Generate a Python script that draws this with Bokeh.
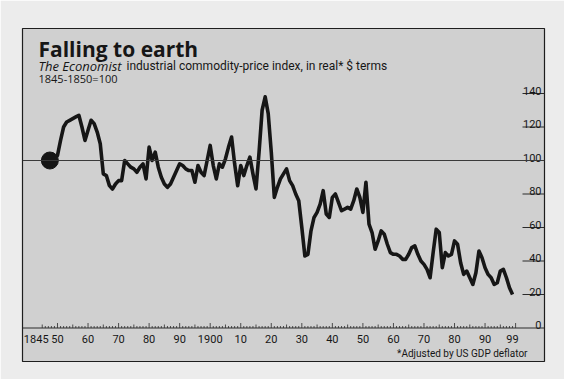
from bokeh.plotting import figure
from bokeh.models import Label, Range1d, Span, ColumnDataSource
from bokeh.embed import file_html
from bokeh.resources import INLINE
from bokeh.core.properties import value

# ---------------- data ----------------
base_year = [1847.5]          # 1845-1850 average
base_value = [100]

years = list(range(1850, 2000))
index_values = [
    103, 112, 120, 123, 124, 125, 126, 127, 120, 112,   # 1850-59
    118, 124, 122, 117, 110, 92, 91, 85, 83, 86,        # 1860-69
    88, 88, 100, 98, 96, 95, 93, 96, 98, 89,            # 1870-79
    108, 100, 105, 96, 90, 86, 84, 86, 90, 94,          # 1880-89
    98, 97, 95, 94, 94, 87, 97, 93, 91, 100,            # 1890-99
    109, 97, 89, 98, 96, 101, 108, 114, 98, 85,         # 1900-09
    97, 91, 97, 102, 92, 83, 105, 130, 138, 128,        # 1910-19
    105, 78, 84, 89, 92, 95, 88, 85, 80, 76,            # 1920-29
    60, 43, 44, 58, 66, 69, 74, 82, 68, 66,             # 1930-39
    78, 80, 75, 70, 71, 72, 71, 76, 83, 78,             # 1940-49
    69, 87, 62, 57, 47, 52, 58, 56, 50, 45,             # 1950-59
    44, 44, 43, 41, 41, 44, 48, 49, 44, 40,             # 1960-69
    38, 35, 30, 45, 59, 57, 36, 45, 43, 44,             # 1970-79
    52, 50, 39, 32, 34, 30, 26, 33, 46, 42,             # 1980-89
    36, 32, 30, 26, 27, 34, 35, 30, 24, 20,             # 1990-99
]

x_tick_years = [1845, 1850, 1860, 1870, 1880, 1890, 1900, 1910, 1920,
                1930, 1940, 1950, 1960, 1970, 1980, 1990, 1999]
x_tick_labels = ["1845", "50", "60", "70", "80", "90", "1900", "10", "20",
                 "30", "40", "50", "60", "70", "80", "90", "99"]
y_ticks = [0, 20, 40, 60, 80, 100, 120, 140]
y_tick_labels = ["0", "20", "40", "60", "80", "100", "120", "140"]

title = "Falling to earth"
subtitle_italic = "The Economist"
subtitle_rest = "industrial commodity-price index, in real* $ terms"
base_note = "1845-1850=100"
footnote = "*Adjusted by US GDP deflator"

# ---------------- layout / style ----------------
FONT = "Roboto"
WIDE = "Open Sans"
INK = "#161616"
PANEL = "#d0d0d0"
PAPER = "#ececec"

FRAME_W, FRAME_H = 522, 333
PX_PER_YEAR = 3.054
PX_PER_UNIT = 1.675
x0 = 1838.54
y0 = -20.0
x1 = x0 + FRAME_W / PX_PER_YEAR
y1 = y0 + FRAME_H / PX_PER_UNIT

p = figure(width=564, height=379, output_backend="svg", toolbar_location=None,
           x_axis_location=None, y_axis_location=None,
           x_range=Range1d(x0, x1), y_range=Range1d(y0, y1),
           frame_width=FRAME_W, frame_height=FRAME_H,
           min_border_left=22, min_border_top=28, min_border_right=20,
           min_border_bottom=18)
p.grid.visible = False
p.background_fill_color = PANEL
p.border_fill_color = PAPER
p.outline_line_color = "#1e1e1e"
p.outline_line_width = 1.2

# reference line at 100 and baseline at 0
p.add_layout(Span(location=100, dimension="width", line_color="#3a3a3a", line_width=1))
p.add_layout(Span(location=0, dimension="width", line_color="#2a2a2a", line_width=1.2))

# x minor / major ticks pointing up from the baseline
minor_years = list(range(1845, 2001))
tick_h = [(5 if yr % 10 == 0 else 3.5 if yr % 5 == 0 else 2) / PX_PER_UNIT for yr in minor_years]
p.segment(x0=minor_years, y0=[0] * len(minor_years), x1=minor_years, y1=tick_h,
          line_color="#2a2a2a", line_width=0.8)

# x tick labels
x_offsets = [-6 if lab == "1845" else 0 for lab in x_tick_labels]
p.text(x=x_tick_years, y=[0] * len(x_tick_years), text=x_tick_labels,
       x_offset=x_offsets, y_offset=[11] * len(x_tick_years),
       text_align="center", text_baseline="middle", text_color=INK,
       text_font=value(FONT), text_font_size="11px")

# y ticks: short lines at the right edge with labels sitting on them
tick_len = 22 / PX_PER_YEAR
p.segment(x0=[x1 - tick_len] * (len(y_ticks) - 1), y0=y_ticks[1:],
          x1=[x1] * (len(y_ticks) - 1), y1=y_ticks[1:],
          line_color="#2a2a2a", line_width=1)
p.text(x=[x1] * len(y_ticks), y=y_ticks, text=y_tick_labels,
       x_offset=[-3] * len(y_ticks), y_offset=[-3] * len(y_ticks),
       text_align="right", text_baseline="alphabetic", text_color=INK,
       text_font=value(FONT), text_font_size="11px")

# the series
src = ColumnDataSource(dict(x=base_year + years, y=base_value + index_values))
p.line("x", "y", source=src, line_color=INK, line_width=3.6, line_join="round")
p.scatter(x=base_year, y=base_value, size=17, color=INK)

# texts (screen units measured from the frame's bottom-left corner)
p.add_layout(Label(x=16, y=313, x_units="screen", y_units="screen", text=title,
                   text_font=WIDE, text_font_size="21px", text_font_style="bold",
                   text_color=INK, text_baseline="alphabetic"))
p.add_layout(Label(x=16, y=296, x_units="screen", y_units="screen", text=subtitle_italic,
                   text_font=WIDE, text_font_size="13px", text_font_style="italic",
                   text_color=INK, text_baseline="alphabetic"))
p.add_layout(Label(x=104, y=296, x_units="screen", y_units="screen", text=subtitle_rest,
                   text_font=FONT, text_font_size="12px",
                   text_color=INK, text_baseline="alphabetic"))
p.add_layout(Label(x=16, y=283, x_units="screen", y_units="screen", text=base_note,
                   text_font=WIDE, text_font_size="11px",
                   text_color=INK, text_baseline="alphabetic"))
p.add_layout(Label(x=505, y=8, x_units="screen", y_units="screen", text=footnote,
                   text_font=FONT, text_font_size="10px", text_align="right",
                   text_color=INK, text_baseline="alphabetic"))

open("out.html", "w").write(file_html(p, INLINE))
